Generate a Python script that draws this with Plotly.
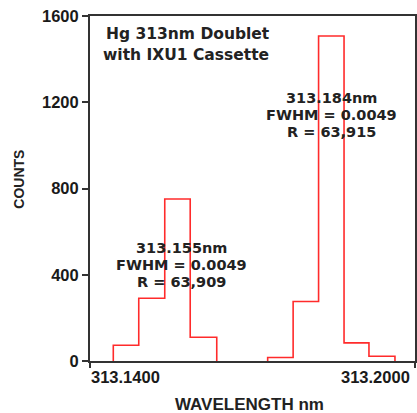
import plotly.graph_objects as go

# ---- data ----
peak1_edges = [313.1443, 313.1490, 313.1538, 313.1585, 313.1634]
peak1_counts = [73, 291, 751, 110]
peak2_edges = [313.1728, 313.1775, 313.1822, 313.1869, 313.1915, 313.1963]
peak2_counts = [16, 276, 1507, 84, 22]

x_range = [313.14, 313.20]
y_range = [0, 1600]
y_ticks = [0, 400, 800, 1200, 1600]
x_ticks = [313.14, 313.20]
x_tick_labels = ["313.1400", "313.2000"]

title_lines = ["Hg 313nm Doublet", "with IXU1 Cassette"]
peak1_label = ["313.155nm", "FWHM = 0.0049", "R = 63,909"]
peak2_label = ["313.184nm", "FWHM = 0.0049", "R = 63,915"]
peak1_label_x = 313.1569
peak2_label_x = 313.1846
peak1_label_y = [526, 447, 368]
peak2_label_y = [1220, 1141, 1063]

RED = "#ff2b2b"
AX = "#333333"
TXT = "#1a1a1a"
ANN_FONT = dict(family="DejaVu Sans", size=15.5, color="#222222", weight="bold")
PEAK_FONT = dict(family="DejaVu Sans", size=14.5, color="#222222", weight="bold")
TICK_FONT = dict(family="Liberation Sans", size=16.5, color=TXT, weight="bold")
TITLE_FONT = dict(family="Liberation Sans", size=17, color="#222222", weight="bold")


def step_xy(edges, counts):
    xs = [edges[0]] + list(edges)
    ys = [0] + list(counts) + [0]
    return xs, ys


fig = go.Figure()
for edges, counts in [(peak1_edges, peak1_counts), (peak2_edges, peak2_counts)]:
    xs, ys = step_xy(edges, counts)
    fig.add_trace(go.Scatter(x=xs, y=ys, mode="lines", line=dict(color=RED, width=1.6, shape="hv"),
                             showlegend=False, hoverinfo="skip"))

annotations = []
# title block
for i, (txt, xp, yp) in enumerate(zip(title_lines, [0.043, 0.034], [0.9485, 0.888])):
    annotations.append(dict(text=txt, xref="paper", yref="paper", x=xp, y=yp, xanchor="left",
                            yanchor="middle", showarrow=False, font=ANN_FONT))
# peak labels
for lab, lx, lys in [(peak1_label, peak1_label_x, peak1_label_y), (peak2_label, peak2_label_x, peak2_label_y)]:
    for txt, ly in zip(lab, lys):
        annotations.append(dict(text=txt, xref="x", yref="y", x=lx, y=ly, xanchor="center",
                                yanchor="middle", showarrow=False, font=PEAK_FONT, borderpad=0))
# x tick labels (first left-aligned, last right-aligned)
for val, txt, anc, sh in zip(x_ticks, x_tick_labels, ["left", "right"], [-1, -3]):
    annotations.append(dict(text=txt, xref="x", yref="paper", x=val, y=-0.046, xanchor=anc,
                            yanchor="middle", xshift=sh, showarrow=False, font=TICK_FONT))
# axis titles
annotations.append(dict(text="WAVELENGTH nm", xref="paper", yref="paper", x=0.4916, y=-0.126,
                        xanchor="center", yanchor="middle", showarrow=False, font=TITLE_FONT))
annotations.append(dict(text="COUNTS", xref="paper", yref="paper", x=-0.219, y=0.528, textangle=-90,
                        xanchor="center", yanchor="middle", showarrow=False,
                        font=dict(family="Liberation Sans", size=14, color="#222222", weight="bold")))

fig.update_layout(
    width=417, height=413,
    margin=dict(l=90, r=0, t=16, b=52),
    paper_bgcolor="white", plot_bgcolor="white",
    annotations=annotations,
    xaxis=dict(range=x_range, tickvals=x_ticks, showticklabels=False, ticks="outside", ticklen=5,
               tickwidth=1.5, tickcolor=AX, showline=True, linecolor=AX, linewidth=2, mirror=True,
               showgrid=False, zeroline=False, fixedrange=True),
    yaxis=dict(range=y_range, tickvals=y_ticks, ticks="outside", ticklen=6, tickwidth=1.5,
               tickcolor=AX, showline=True, linecolor=AX, linewidth=2, mirror=True, showgrid=False,
               zeroline=False, tickfont=TICK_FONT, fixedrange=True),
)

fig.write_html("out.html", config={"displayModeBar": False})
